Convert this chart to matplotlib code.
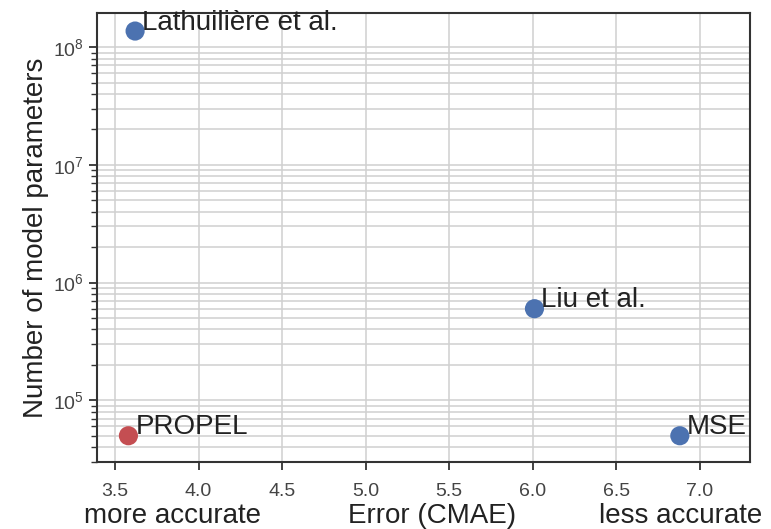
import matplotlib
matplotlib.use("Agg")
import matplotlib.pyplot as plt
import numpy as np

methods = ["Lathuilière et al.", "Liu et al.", "PROPEL", "MSE"]
cmae = [3.62, 6.01, 3.58, 6.88]
params = [1.37e8, 6.0e5, 5.0e4, 5.0e4]
colors = ["#4C72B0", "#4C72B0", "#C44E52", "#4C72B0"]
xticks = [3.5, 4.0, 4.5, 5.0, 5.5, 6.0, 6.5, 7.0]

plt.rcParams['font.family'] = ['Liberation Sans', 'DejaVu Sans']

fig = plt.figure(figsize=(7.71, 5.29), dpi=100)
ax = fig.add_axes([97/771, 1-462/529, (750-97)/771, (462-13)/529])

ax.set_yscale('log')
ax.set_xlim(3.392, 7.30)
ax.set_ylim(10**4.476, 10**8.29)
ax.set_xticks(xticks)
ax.set_xticklabels([f"{v:.1f}" for v in xticks])

ax.grid(True, which='major', color='#d0d0d0', linewidth=1.1)
ax.grid(True, which='minor', axis='y', color='#d0d0d0', linewidth=1.1)
ax.set_axisbelow(True)

for s in ax.spines.values():
    s.set_color('#333333')
    s.set_linewidth(1.5)

ax.tick_params(axis='both', which='major', direction='out', length=6, width=1.3,
               color='#333333', labelsize=14, labelcolor='#444444')
ax.tick_params(axis='x', which='major', pad=9)
ax.tick_params(axis='y', which='minor', direction='out', length=4, width=1.0,
               color='#333333')

ax.scatter(cmae, params, c=colors, s=190, zorder=3, edgecolors='none')
for m, x, y in zip(methods, cmae, params):
    ax.annotate(m, (x, y), xytext=(5, 6), textcoords='offset points',
                fontsize=20, color='#222222', va='center', ha='left', zorder=4)

ax.set_ylabel("Number of model parameters", fontsize=20, color='#222222', labelpad=3)
fig.text(172/771, 1-516/529, "more accurate", fontsize=20, ha='center', va='center', color='#222222')
fig.text(432/771, 1-516/529, "Error (CMAE)", fontsize=20, ha='center', va='center', color='#222222')
fig.text(681/771, 1-516/529, "less accurate", fontsize=20, ha='center', va='center', color='#222222')

fig.savefig("out.png", dpi=100)
